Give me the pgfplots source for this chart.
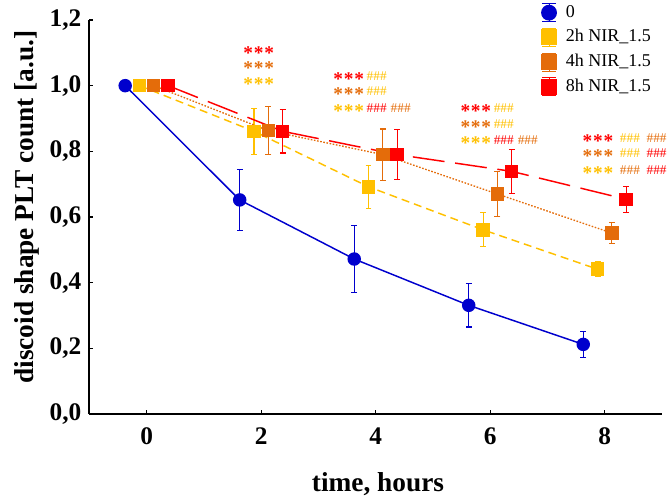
\documentclass[border=0pt]{standalone}
\usepackage{fontspec}
\setmainfont{Liberation Serif}
\usepackage{pgfplots}
\pgfplotsset{compat=1.18}

\definecolor{cblue}{RGB}{0,0,205}
\definecolor{cyel}{RGB}{255,192,0}
\definecolor{corg}{RGB}{228,108,10}
\definecolor{cred}{RGB}{255,0,0}

% significance marks (asterisks lowered so that they sit level with the hashes)
\newcommand{\st}[1]{{\color{#1}\fontsize{14.5}{15}\selectfont\bfseries\raisebox{-3.8pt}{*\kern0.6pt*\kern0.6pt*}}}
\newcommand{\hs}[1]{{\color{#1}\fontsize{10}{10}\selectfont\#\#\#}}

\pgfplotsset{
  errs/.style={error bars/.cd, y dir=both, y explicit,
    error bar style={solid, line width=0.8pt},
    error mark options={solid, rotate=90, mark size=2.2pt, line width=0.8pt}},
}
\tikzset{sig/.style={anchor=base west, inner sep=0pt}}

\begin{document}
\begin{tikzpicture}
\useasboundingbox (-67.05pt,-61.5pt) rectangle (433.95pt,310.5pt);
\begin{axis}[
    at={(0,0)}, anchor=south west,
    scale only axis,
    width=429.45pt, height=295.5pt,
    xmin=-1, xmax=9, ymin=0, ymax=1.2,
    axis x line*=bottom, axis y line*=left,
    axis line style={line width=1.5pt, -},
    xtick={0,2,4,6,8},
    ytick={0,0.2,0.4,0.6,0.8,1.0,1.2},
    tick align=inside,
    major tick length=3pt,
    tick style={line width=1pt, black},
    /pgf/number format/assume math mode=true,
    ticklabel style={font=\fontsize{19}{20}\selectfont\bfseries},
    xticklabel style={yshift=-6.5pt},
    yticklabel style={xshift=-2.5pt, /pgf/number format/.cd, fixed, fixed zerofill, precision=1, use comma},
    xlabel={time, hours},
    ylabel={discoid shape PLT count [a.u.]},
    label style={font=\fontsize{20.5}{22}\selectfont\bfseries},
    xlabel style={at={(axis description cs:0.504,-0.177)}, anchor=center},
    ylabel style={at={(axis description cs:-0.109,0.525)}, anchor=center},
    clip=false,
    legend style={at={(axis description cs:0.787,1.043)}, anchor=north west,
      draw=none, fill=none, inner sep=0pt,
      font=\fontsize{13.5}{15}\selectfont,
      nodes={inner sep=0pt, text height=10pt, text depth=3pt},
      row sep=4.5pt, cells={anchor=west}},
    legend image code/.code={
      \draw[#1, solid, mark=none, line width=0.6pt] (0pt,-6.7pt)--(0pt,6.7pt)
        (-5pt,-6.7pt)--(5pt,-6.7pt) (-5pt,6.7pt)--(5pt,6.7pt);
      \draw[#1, only marks, every mark/.append style={scale=1.2}] plot coordinates {(0pt,0pt)};
      \path (-6pt,0pt) (12pt,0pt);
    },
]

\addplot[cblue, line width=1.1pt, mark=*, mark size=4.5pt, mark options={solid, fill=cblue}, errs]
  coordinates {
    (-0.375,1.000) +- (0,0)
    (1.625,0.652) +- (0,0.093)
    (3.625,0.472) +- (0,0.103)
    (5.625,0.331) +- (0,0.066)
    (7.625,0.212) +- (0,0.040)
  };
\addplot[cyel, line width=1.1pt, dash pattern=on 6pt off 3.75pt, mark=square*, mark size=4.5pt, mark options={solid, fill=cyel}, errs]
  coordinates {
    (-0.125,1.000) +- (0,0)
    (1.875,0.861) +- (0,0.070)
    (3.875,0.692) +- (0,0.065)
    (5.875,0.561) +- (0,0.052)
    (7.875,0.441) +- (0,0.023)
  };
\addplot[corg, line width=1pt, dash pattern=on 1.2pt off 1.2pt, mark=square*, mark size=4.5pt, mark options={solid, fill=corg}, errs]
  coordinates {
    (0.125,1.000) +- (0,0)
    (2.125,0.863) +- (0,0.073)
    (4.125,0.790) +- (0,0.078)
    (6.125,0.670) +- (0,0.068)
    (8.125,0.551) +- (0,0.033)
  };
\addplot[cred, line width=1.1pt, dash pattern=on 24pt off 8pt, mark=square*, mark size=4.5pt, mark options={solid, fill=cred}, errs]
  coordinates {
    (0.375,1.000) +- (0,0)
    (2.375,0.861) +- (0,0.066)
    (4.375,0.790) +- (0,0.077)
    (6.375,0.739) +- (0,0.068)
    (8.375,0.654) +- (0,0.040)
  };
\legend{0,2h NIR\_1.5,4h NIR\_1.5,8h NIR\_1.5}

% significance annotations (baselines)
\node[sig] at (axis cs:1.684,1.096) {\st{cred}};
\node[sig] at (axis cs:1.684,1.049) {\st{corg}};
\node[sig] at (axis cs:1.684,1.000) {\st{cyel}};

\node[sig] at (axis cs:3.257,1.017) {\st{cred}\hspace{2pt}\hs{cyel}};
\node[sig] at (axis cs:3.257,0.969) {\st{corg}\hspace{2pt}\hs{cyel}};
\node[sig] at (axis cs:3.257,0.918) {\st{cyel}\hspace{2pt}\hs{cred}\hspace{3pt}\hs{corg}};

\node[sig] at (axis cs:5.477,0.919) {\st{cred}\hspace{2pt}\hs{cyel}};
\node[sig] at (axis cs:5.477,0.870) {\st{corg}\hspace{2pt}\hs{cyel}};
\node[sig] at (axis cs:5.477,0.821) {\st{cyel}\hspace{2pt}\hs{cred}\hspace{3pt}\hs{corg}};

\node[sig] at (axis cs:7.610,0.828) {\st{cred}\hspace{5pt}\hs{cyel}\hspace{5pt}\hs{corg}};
\node[sig] at (axis cs:7.610,0.782) {\st{corg}\hspace{5pt}\hs{cyel}\hspace{5pt}\hs{cred}};
\node[sig] at (axis cs:7.610,0.730) {\st{cyel}\hspace{5pt}\hs{corg}\hspace{5pt}\hs{cred}};
\end{axis}
\end{tikzpicture}
\end{document}
